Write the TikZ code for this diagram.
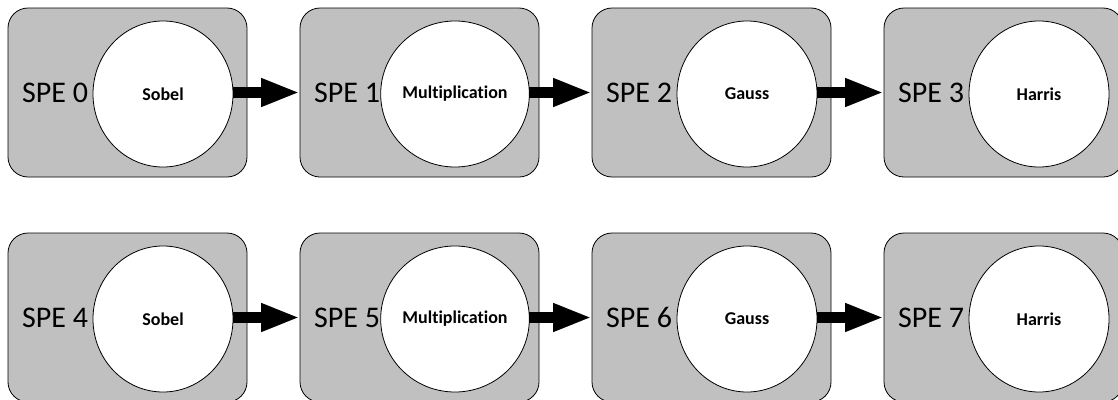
\documentclass[tikz,border=0pt]{standalone}
\usepackage{fontspec}
\setmainfont{Carlito}[Ligatures={NoCommon,NoContextual}]
\usetikzlibrary{arrows.meta,shapes.geometric}
\definecolor{boxgray}{RGB}{192,192,192}
\tikzset{
  spebox/.style={draw=black, line width=0.8pt, fill=boxgray, rounded corners=20pt,
    minimum width=239pt, minimum height=169pt, inner sep=0pt, outer sep=0pt, anchor=north west},
  proc/.style={ellipse, draw=black, line width=0.8pt, fill=white, minimum width=140pt,
    minimum height=146pt, inner sep=0pt, outer sep=0pt, font=\fontsize{18}{20}\selectfont\bfseries},
  spelabel/.style={anchor=west, inner sep=0pt, font=\fontsize{30}{34}\selectfont},
  flow/.style={line width=11pt, -{Triangle[length=39pt,width=26pt]}}
}
\begin{document}
\begin{tikzpicture}[x=1pt,y=-1pt]
\useasboundingbox (0,0) rectangle (1118,399);
% row 1
\node[spebox] (b0) at (8,8) {};
\node[spebox] (b1) at (300,8) {};
\node[spebox] (b2) at (592,8) {};
\node[spebox] (b3) at (884,8) {};
% row 2
\node[spebox] (b4) at (8,233) {};
\node[spebox] (b5) at (300,233) {};
\node[spebox] (b6) at (592,233) {};
\node[spebox] (b7) at (884,233) {};
% labels
\node[spelabel] (l0) at (22,92.5) {SPE 0};
\node[spelabel] (l1) at (314,92.5) {SPE 1};
\node[spelabel] (l2) at (606,92.5) {SPE 2};
\node[spelabel] (l3) at (898,92.5) {SPE 3};
\node[spelabel] (l4) at (22,317.5) {SPE 4};
\node[spelabel] (l5) at (314,317.5) {SPE 5};
\node[spelabel] (l6) at (606,317.5) {SPE 6};
\node[spelabel] (l7) at (898,317.5) {SPE 7};
% circles
\node[proc] (c0) at (163,94) {Sobel};
\node[proc] (c1) at (455,94) {Multiplication};
\node[proc] (c2) at (747,94) {Gauss};
\node[proc] (c3) at (1039,94) {Harris};
\node[proc] (c4) at (163,319) {Sobel};
\node[proc] (c5) at (455,319) {Multiplication};
\node[proc] (c6) at (747,319) {Gauss};
\node[proc] (c7) at (1039,319) {Harris};
% arrows
\draw[flow] (c0.east |- b1.west) -- (b1.west);
\draw[flow] (c1.east |- b2.west) -- (b2.west);
\draw[flow] (c2.east |- b3.west) -- (b3.west);
\draw[flow] (c4.east |- b5.west) -- (b5.west);
\draw[flow] (c5.east |- b6.west) -- (b6.west);
\draw[flow] (c6.east |- b7.west) -- (b7.west);
\end{tikzpicture}
\end{document}
